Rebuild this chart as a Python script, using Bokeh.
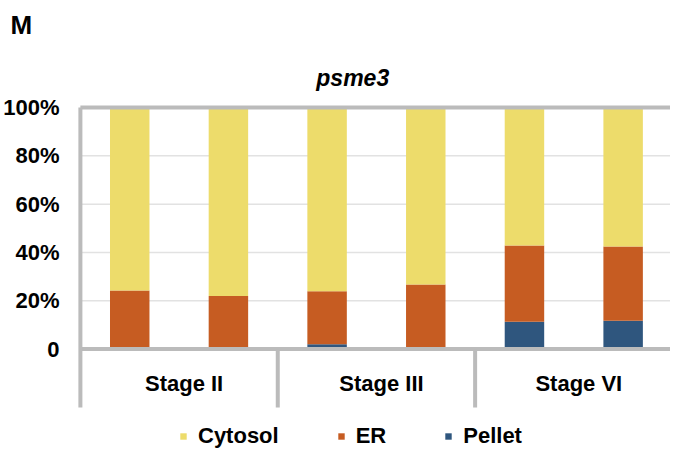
import numpy as np
from bokeh.plotting import figure
from bokeh.models import (Range1d, ColumnDataSource, FixedTicker, Legend,
                          LegendItem)
from bokeh.core.properties import value
from bokeh.embed import file_html
from bokeh.resources import INLINE

# ---------------- data ----------------
stages = ["Stage II", "Stage III", "Stage VI"]
bars_per_stage = 2
series = ["Cytosol", "ER", "Pellet"]
pellet = [0.6, 0.0, 2.0, 0.0, 11.3, 11.7]
er = [23.7, 22.0, 21.9, 26.7, 31.6, 30.8]
cytosol = [75.7, 78.0, 76.1, 73.3, 57.1, 57.5]
y_ticks = [0, 20, 40, 60, 80, 100]
y_tick_labels = ["0", "20%", "40%", "60%", "80%", "100%"]
title_text = "psme3"
panel_text = "M"

colors = {"Cytosol": "#EDDC6B", "ER": "#C65C22", "Pellet": "#2F567E"}
GRAY = "#BBBBBB"
GRID = "#E2E2E2"
FONT = "Liberation Sans"

n_bars = len(stages) * bars_per_stage
xs = np.arange(n_bars) + 0.5

W, H = 670, 450

p = figure(width=W, height=H, x_range=Range1d(-0.08, 5.98),
           y_range=Range1d(-42.0, 125.7), output_backend="svg",
           toolbar_location=None, x_axis_location=None, title=panel_text,
           min_border_left=64, min_border_right=0, min_border_top=45,
           min_border_bottom=0, outline_line_color=None)
p.xgrid.visible = False
p.ygrid.visible = False

p.title.align = "left"
p.title.offset = -62
p.title.standoff = 12
p.title.text_font = FONT
p.title.text_font_size = "26px"
p.title.text_font_style = "bold"
p.title.text_color = "black"

# y axis (labels only)
ax = p.yaxis[0]
ax.ticker = FixedTicker(ticks=y_ticks)
ax.major_label_overrides = {t: l for t, l in zip(y_ticks, y_tick_labels)}
ax.axis_line_color = None
ax.major_tick_line_color = None
ax.minor_tick_line_color = None
ax.major_label_standoff = 7
ax.major_label_text_font = FONT
ax.major_label_text_font_size = "22px"
ax.major_label_text_font_style = "bold"
ax.major_label_text_color = "black"

# gridlines
grid_y = y_ticks[1:-1]
p.segment(x0=[0] * len(grid_y), x1=[n_bars] * len(grid_y), y0=grid_y, y1=grid_y,
          line_color=GRID, line_width=1.5)

# stacked bars
src = ColumnDataSource(dict(x=xs, Pellet=pellet, ER=er, Cytosol=cytosol))
stack_order = ["Pellet", "ER", "Cytosol"]
rs = p.vbar_stack(stack_order, x="x", width=0.4, source=src,
                  color=[colors[s] for s in stack_order], line_color=None)
rmap = dict(zip(stack_order, rs))

# frame lines
sep_bottom = -24.2
p.segment(x0=[0, 0], x1=[n_bars, n_bars], y0=[0, y_ticks[-1]], y1=[0, y_ticks[-1]],
          line_color=GRAY, line_width=4)
bounds = [i * bars_per_stage for i in range(len(stages))]
p.segment(x0=bounds, x1=bounds,
          y0=[y_ticks[-1]] + [0] * (len(bounds) - 1),
          y1=[sep_bottom] * len(bounds), line_color=GRAY, line_width=4)

# category labels
centers = [i * bars_per_stage + bars_per_stage / 2 for i in range(len(stages))]
p.text(x=centers, y=[-14.3] * len(stages), text=stages, x_offset=5,
       text_font=value(FONT), text_font_size="22px", text_font_style="bold",
       text_align="center", text_baseline="middle", text_color="black")

# chart title
p.text(x=[2.76], y=[112.4], text=[title_text], text_font=value(FONT),
       text_font_size="23px", text_font_style="bold italic",
       text_align="center", text_baseline="alphabetic", text_color="black")

# legend
legend = Legend(items=[LegendItem(label=s, renderers=[rmap[s]]) for s in series],
                orientation="horizontal", location=(107, 1),
                glyph_width=8, glyph_height=8, label_standoff=11, spacing=58,
                padding=0, margin=0, border_line_color=None,
                background_fill_alpha=0, label_text_font=FONT,
                label_text_font_size="22px", label_text_font_style="bold",
                label_text_color="black")
p.add_layout(legend)

open("out.html", "w").write(file_html(p, INLINE))
